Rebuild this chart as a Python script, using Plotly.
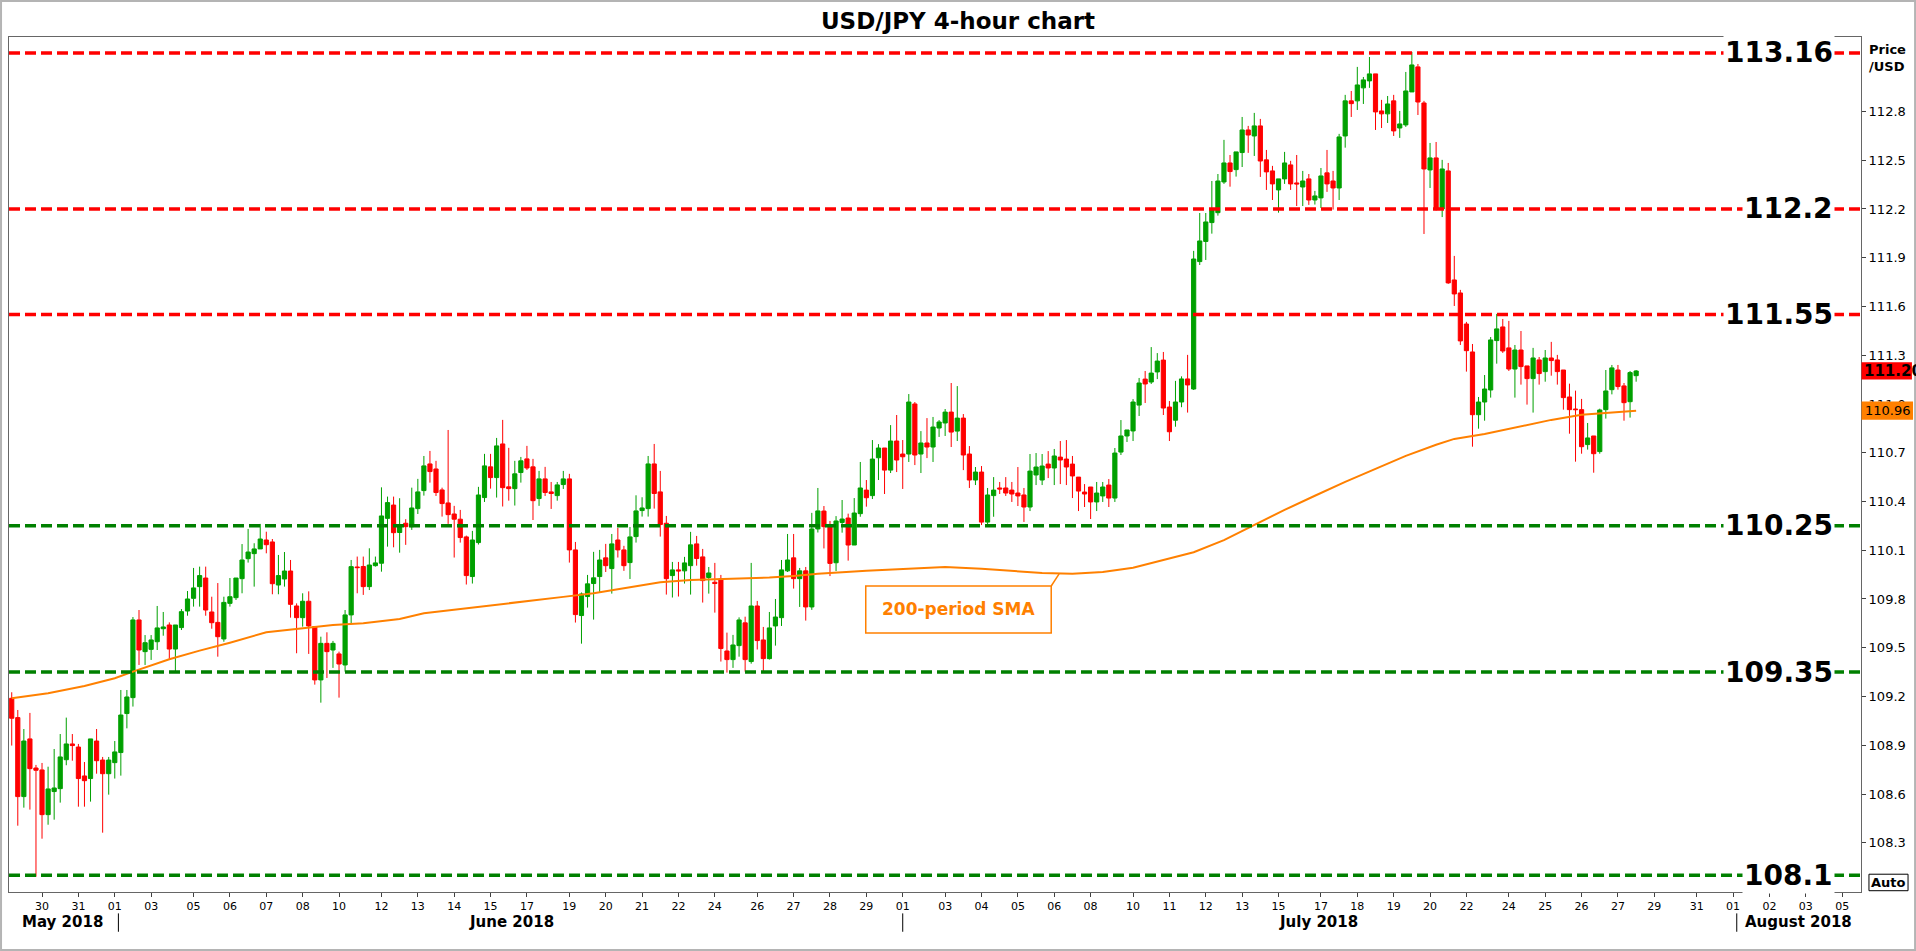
import plotly.graph_objects as go

# ---------------- DATA ----------------
opens = [109.189,109.070,108.584,108.939,108.760,108.748,108.473,108.615,108.633,108.811,
108.908,108.889,108.711,108.695,108.926,108.809,108.725,108.793,108.855,109.095,
109.193,109.671,109.476,109.490,109.537,109.617,109.640,109.492,109.624,109.726,
109.804,109.876,109.929,109.720,109.656,109.554,109.773,109.808,109.925,110.048,
110.079,110.108,110.163,110.151,109.886,109.923,109.972,109.757,109.685,109.786,
109.630,109.302,109.527,109.486,109.462,109.394,109.702,109.997,110.000,109.876,
110.005,110.020,110.296,110.378,110.209,110.266,110.245,110.356,110.467,110.631,
110.600,110.471,110.391,110.323,110.291,110.182,109.938,110.147,110.424,110.613,
110.547,110.754,110.490,110.479,110.578,110.662,110.613,110.418,110.539,110.459,
110.436,110.504,110.539,110.102,109.698,109.815,109.895,109.938,110.053,109.987,
110.163,110.102,110.024,110.184,110.344,110.356,110.631,110.459,110.266,109.944,
109.979,109.973,110.005,110.139,110.059,109.932,109.903,109.923,109.480,109.427,
109.513,109.653,109.415,109.757,109.548,109.433,109.634,109.685,109.973,110.053,
109.925,109.973,109.751,110.231,110.341,110.245,110.023,110.271,110.298,110.132,
110.325,110.470,110.436,110.669,110.729,110.593,110.772,110.692,110.692,111.000,
110.692,110.760,110.735,110.852,110.883,110.950,110.833,110.913,110.692,110.532,
110.581,110.273,110.436,110.483,110.483,110.470,110.452,110.440,110.366,110.563,
110.532,110.630,110.606,110.673,110.661,110.630,110.550,110.458,110.489,110.397,
110.434,110.501,110.421,110.704,110.803,110.834,110.993,111.153,111.135,111.197,
111.270,110.981,110.900,111.012,111.154,111.092,111.876,112.000,112.116,112.177,
112.366,112.483,112.442,112.547,112.686,112.649,112.711,112.502,112.434,112.317,
112.385,112.471,112.360,112.335,112.385,112.255,112.268,112.422,112.372,112.329,
112.649,112.865,112.865,112.945,112.988,113.031,112.803,112.785,112.865,112.698,
112.717,112.920,113.074,112.852,112.440,112.514,112.200,112.434,111.763,111.683,
111.492,111.320,110.934,111.012,111.086,111.390,111.474,111.345,111.215,111.332,
111.234,111.156,111.271,111.199,111.283,111.271,111.209,111.043,110.969,110.965,
110.750,110.803,110.707,110.965,111.088,111.209,111.111,111.014,111.174]

highs = [109.226,109.117,109.000,109.099,108.779,108.791,108.768,108.877,108.969,109.070,
108.969,108.908,108.797,108.939,109.000,108.828,108.828,108.926,109.240,109.240,
109.689,109.732,109.578,109.578,109.757,109.720,109.656,109.640,109.738,109.849,
109.991,109.999,109.999,109.814,109.898,109.814,109.929,109.929,110.138,110.231,
110.143,110.262,110.214,110.169,110.071,110.089,110.040,109.773,109.835,109.847,
109.634,109.568,109.595,109.542,109.476,109.732,110.040,110.061,110.061,110.112,
110.061,110.487,110.430,110.430,110.420,110.291,110.485,110.539,110.680,110.711,
110.650,110.485,110.840,110.373,110.348,110.190,110.219,110.490,110.693,110.693,
110.791,110.902,110.730,110.650,110.674,110.742,110.662,110.588,110.613,110.520,
110.520,110.588,110.570,110.151,109.840,109.948,110.090,110.102,110.139,110.200,
110.237,110.127,110.243,110.438,110.426,110.680,110.754,110.588,110.311,110.028,
110.028,110.059,110.213,110.188,110.108,109.997,110.022,109.948,109.593,109.579,
109.687,109.691,110.022,109.788,109.628,109.720,109.800,110.040,110.200,110.200,
109.991,109.997,110.330,110.483,110.372,110.280,110.310,110.409,110.325,110.421,
110.643,110.532,110.778,110.753,110.729,110.870,110.932,110.778,111.061,111.012,
110.833,110.913,110.920,110.901,110.969,111.129,111.110,110.938,110.741,110.612,
110.618,110.483,110.550,110.520,110.550,110.520,110.612,110.483,110.692,110.698,
110.692,110.710,110.723,110.772,110.778,110.680,110.550,110.507,110.489,110.520,
110.520,110.538,110.729,110.901,110.840,111.030,111.160,111.203,111.350,111.313,
111.320,111.018,111.142,111.170,111.302,111.942,112.175,112.175,112.372,112.415,
112.625,112.532,112.551,112.766,112.711,112.791,112.754,112.563,112.465,112.385,
112.551,112.496,112.532,112.434,112.415,112.311,112.452,112.563,112.434,112.662,
112.902,112.926,113.074,113.012,113.135,113.031,112.871,112.895,112.902,112.803,
113.043,113.166,113.092,112.865,112.606,112.612,112.502,112.483,111.911,111.702,
111.505,111.369,111.043,111.178,111.412,111.554,111.523,111.511,111.363,111.449,
111.234,111.345,111.289,111.332,111.382,111.302,111.209,111.125,111.082,111.031,
110.883,110.803,110.971,111.209,111.240,111.240,111.129,111.203,111.209]

lows = [108.898,108.405,108.516,108.504,108.091,108.325,108.411,108.442,108.547,108.777,
108.805,108.522,108.522,108.553,108.725,108.362,108.596,108.695,108.713,109.004,
109.138,109.394,109.394,109.425,109.486,109.574,109.425,109.347,109.609,109.697,
109.753,109.753,109.697,109.617,109.445,109.537,109.753,109.794,109.835,110.024,
109.876,110.108,110.081,109.829,109.829,109.876,109.685,109.466,109.630,109.462,
109.273,109.162,109.314,109.376,109.193,109.353,109.650,109.835,109.825,109.855,
109.999,109.968,110.122,110.118,110.085,110.133,110.225,110.323,110.436,110.516,
110.434,110.307,110.262,110.055,110.147,109.889,109.895,110.135,110.397,110.479,
110.424,110.369,110.405,110.375,110.516,110.594,110.286,110.373,110.434,110.354,
110.405,110.477,110.024,109.655,109.525,109.747,109.673,109.843,109.966,109.833,
110.055,109.973,109.923,110.147,110.307,110.307,110.356,110.184,109.827,109.809,
109.815,109.895,109.827,110.005,109.778,109.833,109.716,109.415,109.347,109.376,
109.445,109.353,109.402,109.489,109.353,109.427,109.513,109.634,109.966,109.864,
109.751,109.667,109.733,110.209,110.111,109.941,109.972,110.208,110.036,110.132,
110.306,110.368,110.415,110.532,110.446,110.575,110.581,110.477,110.643,110.624,
110.575,110.667,110.643,110.797,110.803,110.735,110.772,110.593,110.483,110.501,
110.255,110.255,110.306,110.446,110.434,110.397,110.372,110.274,110.341,110.501,
110.501,110.544,110.501,110.507,110.501,110.421,110.341,110.366,110.292,110.341,
110.397,110.366,110.397,110.686,110.766,110.772,110.926,111.006,111.123,111.153,
110.932,110.772,110.860,110.980,110.947,111.086,111.855,111.886,112.048,112.159,
112.354,112.337,112.399,112.458,112.545,112.526,112.397,112.317,112.255,112.177,
112.354,112.317,112.218,112.218,112.225,112.227,112.206,112.305,112.196,112.255,
112.577,112.766,112.809,112.846,112.945,112.686,112.698,112.729,112.649,112.637,
112.705,112.920,112.778,112.046,112.329,112.190,112.150,111.739,111.603,111.363,
111.199,110.737,110.848,110.897,111.039,111.248,111.314,111.203,111.039,111.119,
110.996,110.947,111.119,111.137,111.174,111.119,110.965,110.817,110.645,110.694,
110.719,110.577,110.694,110.910,111.059,111.088,110.897,110.916,111.137]

closes = [109.066,108.584,108.926,108.756,108.746,108.473,108.631,108.637,108.828,108.908,
108.898,108.695,108.682,108.939,108.805,108.725,108.809,108.859,109.086,109.197,
109.671,109.486,109.531,109.548,109.622,109.628,109.492,109.640,109.722,109.800,
109.868,109.944,109.732,109.654,109.568,109.779,109.814,109.929,110.040,110.089,
110.108,110.169,110.134,109.894,109.944,109.972,109.767,109.685,109.786,109.634,
109.302,109.527,109.476,109.527,109.400,109.702,109.999,109.993,109.876,110.009,
110.022,110.311,110.393,110.208,110.256,110.245,110.360,110.459,110.619,110.584,
110.455,110.387,110.319,110.291,110.178,109.944,110.163,110.440,110.619,110.547,
110.742,110.485,110.479,110.570,110.650,110.606,110.405,110.539,110.455,110.449,
110.502,110.539,110.102,109.704,109.831,109.893,109.930,110.040,110.005,110.139,
110.102,110.005,110.182,110.342,110.360,110.631,110.449,110.258,109.925,109.979,
109.973,110.022,110.133,110.049,109.913,109.960,109.895,109.495,109.427,109.517,
109.671,109.427,109.757,109.544,109.433,109.622,109.689,109.979,110.040,109.925,
109.973,109.751,110.231,110.342,110.245,110.019,110.280,110.292,110.132,110.329,
110.483,110.423,110.661,110.729,110.593,110.772,110.655,110.675,111.012,110.686,
110.760,110.735,110.858,110.889,110.950,110.827,110.913,110.686,110.532,110.581,
110.273,110.440,110.470,110.477,110.452,110.446,110.434,110.366,110.587,110.612,
110.618,110.606,110.680,110.655,110.612,110.557,110.464,110.446,110.397,110.452,
110.489,110.421,110.698,110.803,110.840,111.012,111.129,111.123,111.190,111.264,
110.975,110.829,111.012,111.154,111.117,111.892,112.003,112.120,112.194,112.372,
112.483,112.430,112.551,112.686,112.655,112.711,112.495,112.428,112.354,112.385,
112.483,112.354,112.354,112.372,112.255,112.280,112.403,112.354,112.329,112.643,
112.865,112.848,112.963,112.994,113.031,112.797,112.785,112.846,112.680,112.723,
112.926,113.086,112.858,112.446,112.514,112.205,112.446,111.745,111.677,111.388,
111.328,110.934,111.012,111.092,111.394,111.462,111.326,111.215,111.332,111.230,
111.156,111.283,111.187,111.283,111.267,111.199,111.039,110.965,110.965,110.737,
110.791,110.694,110.963,111.080,111.222,111.107,111.008,111.193,111.203]

# 200-period SMA (candle index, value)
sma_idx = [0, 6, 12, 17, 20, 26, 31, 36, 42, 48, 53, 58, 64, 68, 73, 79, 85, 91, 96, 101,
           107, 112, 118, 125, 129, 133, 141, 147, 154, 160, 165, 170, 175, 180, 185, 190,
           195, 200, 205, 210, 215, 220, 225, 230, 235, 238, 243, 248, 254, 259, 265, 268]
sma_vals = [109.189, 109.220, 109.265, 109.312, 109.353, 109.429, 109.482, 109.531, 109.595, 109.620,
            109.640, 109.650, 109.677, 109.712, 109.735, 109.761, 109.786, 109.813, 109.835, 109.864,
            109.903, 109.917, 109.923, 109.932, 109.942, 109.955, 109.974, 109.986, 109.997, 109.986,
            109.974, 109.960, 109.955, 109.966, 109.992, 110.040,
            110.088, 110.162, 110.255, 110.348, 110.435, 110.521, 110.601, 110.681, 110.749, 110.785,
            110.815, 110.855, 110.902, 110.934, 110.951, 110.959]

# support / resistance levels
level_values = [113.16, 112.2, 111.55, 110.25, 109.35, 108.1]
level_labels = ["113.16", "112.2", "111.55", "110.25", "109.35", "108.1"]
level_kinds = ["res", "res", "res", "sup", "sup", "sup"]

# x-axis day labels (candle index where the day starts)
day_idx = [5, 11, 17, 23, 30, 36, 42, 48, 54, 61, 67, 73, 79, 85, 92, 98, 104, 110, 116, 123,
           129, 135, 141, 147, 154, 160, 166, 172, 178, 185, 191, 197, 203, 209, 216, 222, 228,
           234, 240, 247, 253, 259, 265, 271, 278, 284, 290, 296, 302]
day_labels = ["30", "31", "01", "03", "05", "06", "07", "08", "10", "12", "13", "14", "15", "17",
              "19", "20", "21", "22", "24", "26", "27", "28", "29", "01", "03", "04", "05", "06",
              "08", "10", "11", "12", "13", "15", "17", "18", "19", "20", "22", "24", "25", "26",
              "27", "29", "31", "01", "02", "03", "05"]
month_labels = ["May 2018", "June 2018", "July 2018", "August 2018"]
month_center_idx = [8.3, 82.4, 215.6, 294.8]
month_start_idx = [17.6, 147.0, 284.6]

y_ticks = [108.3, 108.6, 108.9, 109.2, 109.5, 109.8, 110.1, 110.4, 110.7, 111.0,
           111.3, 111.6, 111.9, 112.2, 112.5, 112.8]

# ---------------- STYLE ----------------
GREEN = "#00A000"
RED = "#FF0000"
ORANGE = "#FF8000"
LVL_RED = "#FF0000"
LVL_GREEN = "#008000"
FONT = "DejaVu Sans"
X_RANGE = [-0.45, 305.1]
Y_RANGE = [107.997, 113.258]

x_idx = list(range(len(opens)))

fig = go.Figure()
fig.add_trace(go.Candlestick(
    x=x_idx, open=opens, high=highs, low=lows, close=closes,
    increasing=dict(line=dict(color=GREEN, width=1), fillcolor=GREEN),
    decreasing=dict(line=dict(color=RED, width=1), fillcolor=RED),
    whiskerwidth=0, showlegend=False, hoverinfo="skip"))
fig.add_trace(go.Scatter(
    x=sma_idx, y=sma_vals, mode="lines", line=dict(color=ORANGE, width=2),
    showlegend=False, hoverinfo="skip"))

shapes = []
annotations = []

# level lines + labels
for val, lab, kind in zip(level_values, level_labels, level_kinds):
    col = LVL_RED if kind == "res" else LVL_GREEN
    shapes.append(dict(type="line", xref="paper", yref="y", x0=0, x1=1, y0=val, y1=val,
                       line=dict(color=col, width=3.5, dash="11px,5px"), layer="above"))
    annotations.append(dict(xref="paper", yref="y", x=0.9857, y=val, text=lab,
                            xanchor="right", yanchor="middle", showarrow=False,
                            bgcolor="white", borderpad=1,
                            font=dict(family=FONT, size=28, color="black", weight="bold")))

# month labels and separators
for lab, c in zip(month_labels, month_center_idx):
    annotations.append(dict(xref="x", yref="paper", x=c, y=-0.0347, text=lab,
                            xanchor="center", yanchor="middle", showarrow=False,
                            font=dict(family=FONT, size=15, color="black", weight="bold")))
for s in month_start_idx:
    shapes.append(dict(type="line", xref="x", yref="paper", x0=s, x1=s, y0=-0.025, y1=-0.0465,
                       line=dict(color="black", width=1)))

# SMA callout
shapes.append(dict(type="rect", xref="x", yref="y", x0=140.9, x1=171.5, y0=109.591, y1=109.880,
                   line=dict(color=ORANGE, width=1.5), fillcolor="white", layer="above"))
shapes.append(dict(type="line", xref="x", yref="y", x0=171.5, x1=172.8, y0=109.880, y1=109.954,
                   line=dict(color=ORANGE, width=1.5), layer="above"))
annotations.append(dict(xref="x", yref="y", x=156.2, y=109.7355, text="200-period SMA",
                        showarrow=False, xanchor="center", yanchor="middle",
                        font=dict(family=FONT, size=17, color=ORANGE, weight="bold")))

# last price / SMA value tags on the right axis
last_close = closes[-1]
last_sma = sma_vals[-1]
shapes.append(dict(type="rect", xref="paper", yref="y", x0=1.0003, x1=1.0275,
                   y0=last_close - 0.053, y1=last_close + 0.053,
                   line=dict(width=0), fillcolor="#FF0000", layer="above"))
annotations.append(dict(xref="paper", yref="y", x=1.0008, y=last_close, text=f"{last_close:.2f}",
                        xanchor="left", yanchor="middle", showarrow=False,
                        font=dict(family=FONT, size=15, color="black", weight="bold")))
shapes.append(dict(type="rect", xref="paper", yref="y", x0=1.0003, x1=1.0281,
                   y0=last_sma - 0.056, y1=last_sma + 0.056,
                   line=dict(width=0), fillcolor="#FF8000", layer="above"))
annotations.append(dict(xref="paper", yref="y", x=1.0012, y=last_sma, text=f"{last_sma:.2f}",
                        xanchor="left", yanchor="middle", showarrow=False,
                        font=dict(family=FONT, size=13, color="black")))

# axis caption and "Auto" box
annotations.append(dict(xref="paper", yref="paper", x=1.0033, y=0.9965, text="Price<br>/USD",
                        xanchor="left", yanchor="top", showarrow=False, align="left",
                        font=dict(family=FONT, size=13, color="black", weight="bold")))
shapes.append(dict(type="rect", xref="paper", yref="paper", x0=1.0043, x1=1.0254,
                   y0=0.0015, y1=0.0208, line=dict(color="black", width=1), fillcolor="white"))
annotations.append(dict(xref="paper", yref="paper", x=1.0148, y=0.0112, text="Auto",
                        xanchor="center", yanchor="middle", showarrow=False,
                        font=dict(family=FONT, size=13, color="black", weight="bold")))

# outer frame of the picture
shapes.append(dict(type="rect", xref="paper", yref="paper", x0=-0.0043, x1=1.0292,
                   y0=-0.0678, y1=1.0421, line=dict(color="#B4B4B4", width=2)))

fig.update_layout(
    width=1916, height=951,
    margin=dict(l=9, r=55, t=37, b=59),
    paper_bgcolor="white", plot_bgcolor="white",
    title=dict(text="USD/JPY 4-hour chart", x=0.5, xref="container", y=0.978, yanchor="middle",
               xanchor="center", font=dict(family=FONT, size=23, color="black", weight="bold")),
    showlegend=False,
    boxgap=0.31, boxgroupgap=0,
    hovermode=False,
    shapes=shapes, annotations=annotations,
    xaxis=dict(range=X_RANGE, rangeslider=dict(visible=False), showgrid=False, zeroline=False,
               tickmode="array", tickvals=day_idx, ticktext=day_labels,
               ticks="outside", ticklen=4, tickcolor="#404040",
               tickfont=dict(family=FONT, size=11, color="black"),
               showline=True, linecolor="#666666", linewidth=1, mirror=True, fixedrange=True),
    yaxis=dict(range=Y_RANGE, side="right", showgrid=False, zeroline=False,
               tickmode="array", tickvals=y_ticks, ticktext=[f"{v:.1f}" for v in y_ticks],
               ticks="outside", ticklen=4, tickcolor="#404040",
               tickfont=dict(family=FONT, size=13, color="black"),
               showline=True, linecolor="#666666", linewidth=1, mirror=True, fixedrange=True),
)

fig.write_html("out.html", config={"displayModeBar": False},
               post_script="document.body.style.margin='0px';document.body.style.overflow='hidden';")
